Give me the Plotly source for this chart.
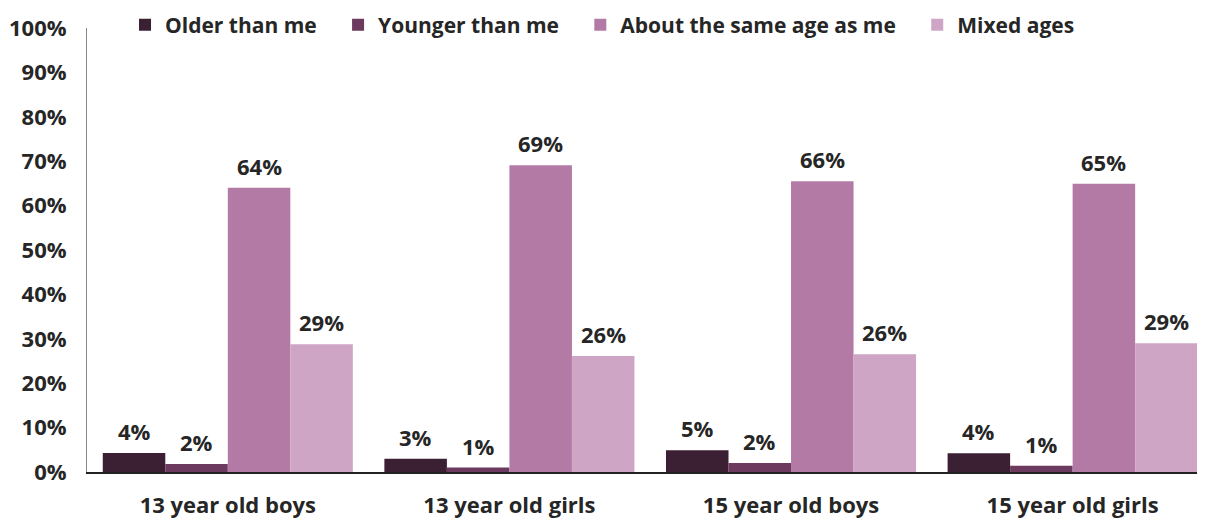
import plotly.graph_objects as go

# ── data ─────────────────────────────────────────────────────────────────────

groups = ["13 year old boys", "13 year old girls", "15 year old boys", "15 year old girls"]
series = ["Older than me", "Younger than me", "About the same age as me", "Mixed ages"]

older = [4.3, 3.0, 4.9, 4.2]
younger = [1.8, 1.0, 2.0, 1.4]
same_age = [64.0, 69.1, 65.5, 64.9]
mixed = [28.8, 26.1, 26.5, 29.0]

values = [older, younger, same_age, mixed]
y_ticks = list(range(0, 101, 10))

# ── style ────────────────────────────────────────────────────────────────────

COLORS = ["#3b1f33", "#6b3a5e", "#b37aa5", "#cfa5c5"]
FONT = "Open Sans, Segoe UI, sans-serif"
TEXT = "#262626"
BARGAP = 0.112
W = (1 - BARGAP) / len(series)

# the page body adds an 8px margin, so the figure is 8px smaller each way
FW, FH = 1197, 510
L, T, B = 79, 20, 46
paper_h = FH - B  # top margin 0, plot top set through the y domain
PAD = "\u00a0" * 3  # widen gaps between legend entries

fig = go.Figure()
x = list(range(len(groups)))
for i, (name, vals) in enumerate(zip(series, values)):
    fig.add_trace(go.Bar(
        x=x, y=vals, name=name + (PAD if i < len(series) - 1 else ""),
        marker_color=COLORS[i], marker_line_width=0,
    ))
    for j, v in enumerate(vals):
        fig.add_annotation(
            x=j + (i - 1.5) * W, y=v, text=f"{v:.0f}%",
            showarrow=False, yanchor="bottom", yshift=5,
            font=dict(family=FONT, size=22, color=TEXT, weight="bold"),
        )

fig.update_layout(
    width=FW, height=FH,
    barmode="group", bargap=BARGAP, bargroupgap=0,
    plot_bgcolor="#ffffff", paper_bgcolor="#ffffff",
    margin=dict(l=L, r=0, t=0, b=B, autoexpand=False),
    font=dict(family=FONT, size=22, color=TEXT, weight="bold"),
    legend=dict(orientation="h", x=0.034, xanchor="left",
                y=(paper_h - 17) / paper_h, yanchor="middle",
                font=dict(size=21), bgcolor="rgba(0,0,0,0)", itemwidth=30,
                traceorder="normal"),
    showlegend=True,
)
fig.update_xaxes(
    tickvals=x, ticktext=groups, range=[-0.5, 3.47], automargin=False,
    showline=True, linecolor="#222222", linewidth=1.5,
    showgrid=False, zeroline=False, ticks="", ticklabelstandoff=13,
)
fig.update_yaxes(
    range=[0, 100], tickvals=y_ticks, ticktext=[f"{t}%" for t in y_ticks],
    domain=[0, (paper_h - T) / paper_h], automargin=False,
    showline=True, linecolor="#888888", linewidth=1,
    showgrid=False, zeroline=False, ticks="", ticklabelstandoff=15,
)

fig.write_html("out.html")
